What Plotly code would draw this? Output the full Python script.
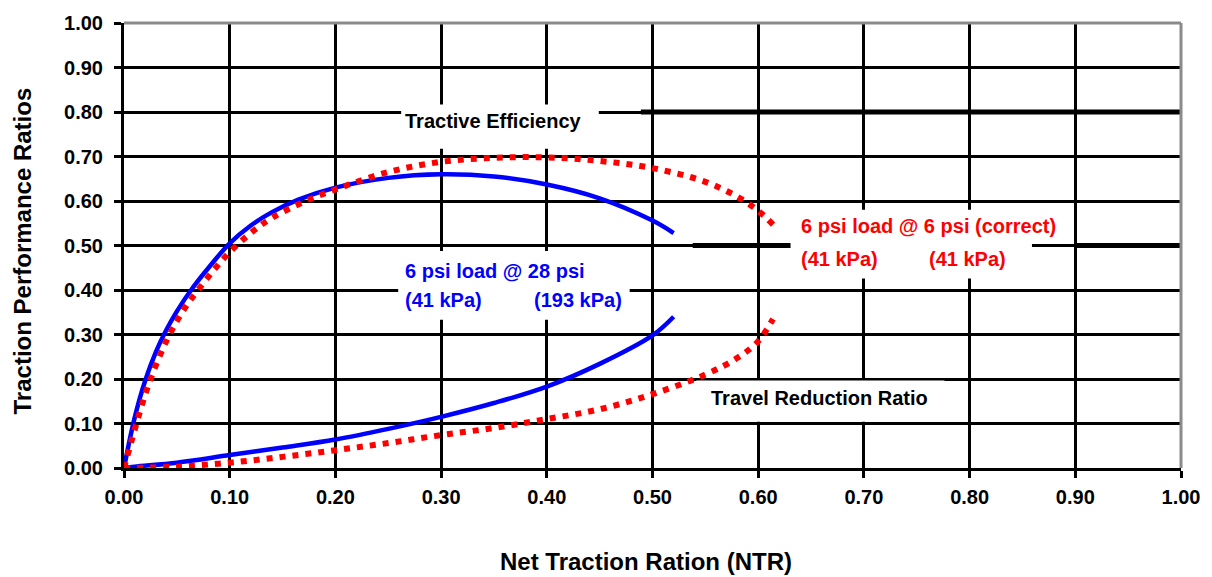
import plotly.graph_objects as go

# ---- data ----
te28_x = [0.0, 0.01, 0.02, 0.03, 0.04, 0.05, 0.065, 0.08, 0.10, 0.12, 0.14, 0.165, 0.20, 0.25, 0.30, 0.35, 0.40, 0.45, 0.50, 0.52]
te28_y = [0.0, 0.112, 0.196, 0.26, 0.31, 0.352, 0.405, 0.45, 0.505, 0.545, 0.575, 0.603, 0.63, 0.652, 0.660, 0.655, 0.637, 0.606, 0.556, 0.528]

te6_x = [0.0, 0.01, 0.02, 0.03, 0.04, 0.05, 0.06, 0.07, 0.085, 0.10, 0.12, 0.14, 0.17, 0.20, 0.25, 0.30, 0.35, 0.40, 0.45, 0.50, 0.55, 0.58, 0.60, 0.614]
te6_y = [0.0, 0.085, 0.165, 0.23, 0.285, 0.33, 0.368, 0.40, 0.445, 0.485, 0.528, 0.562, 0.598, 0.626, 0.665, 0.688, 0.697, 0.698, 0.690, 0.674, 0.643, 0.61, 0.578, 0.547]

trr28_x = [0.0, 0.01, 0.05, 0.10, 0.15, 0.20, 0.25, 0.30, 0.35, 0.40, 0.45, 0.50, 0.52]
trr28_y = [0.0, 0.003, 0.012, 0.029, 0.046, 0.064, 0.088, 0.115, 0.146, 0.183, 0.234, 0.298, 0.34]

trr6_x = [0.0, 0.05, 0.10, 0.15, 0.20, 0.25, 0.30, 0.35, 0.40, 0.45, 0.50, 0.55, 0.58, 0.60, 0.614]
trr6_y = [0.0, 0.003, 0.012, 0.025, 0.040, 0.056, 0.074, 0.090, 0.110, 0.132, 0.166, 0.210, 0.247, 0.285, 0.335]

tick_vals = [0.0, 0.1, 0.2, 0.3, 0.4, 0.5, 0.6, 0.7, 0.8, 0.9, 1.0]
tick_text = ["0.00", "0.10", "0.20", "0.30", "0.40", "0.50", "0.60", "0.70", "0.80", "0.90", "1.00"]

x_title = "Net Traction Ration (NTR)"
y_title = "Traction Performance Ratios"

BLUE = "#0000FF"
RED = "#FF0000"
FONT = "Liberation Sans, Arial, sans-serif"

fig = go.Figure()
fig.add_trace(go.Scatter(x=te28_x, y=te28_y, mode="lines", line=dict(color=BLUE, width=4.5, shape="spline", smoothing=1)))
fig.add_trace(go.Scatter(x=trr28_x, y=trr28_y, mode="lines", line=dict(color=BLUE, width=4.5, shape="spline", smoothing=1)))
fig.add_trace(go.Scatter(x=te6_x, y=te6_y, mode="lines", line=dict(color=RED, width=6, dash="6px,7px", shape="spline", smoothing=1)))
fig.add_trace(go.Scatter(x=trr6_x, y=trr6_y, mode="lines", line=dict(color=RED, width=6, dash="6px,7px", shape="spline", smoothing=1)))

axis_common = dict(
    range=[0, 1], tickvals=tick_vals, ticktext=tick_text,
    showgrid=True, gridcolor="black", gridwidth=3,
    showline=True, linecolor="black", linewidth=3,
    ticks="outside", ticklen=7, tickwidth=3, tickcolor="black",
    zeroline=False, fixedrange=True,
    tickfont=dict(family=FONT, size=20, color="black", weight="bold"),
)
fig.update_xaxes(**axis_common, ticklabelstandoff=2)
fig.update_yaxes(**axis_common, ticklabelstandoff=7)

# decorative thick segments and label masks (layout only)
thick_segments = [(0.489, 1.0, 0.8), (0.538, 0.636, 0.5), (0.899, 1.0, 0.5)]
mask_boxes = [
    (0.2622, 0.4492, 0.7174, 0.8168),
    (0.2594, 0.4784, 0.3333, 0.4879),
    (0.6306, 0.8590, 0.4260, 0.5806),
    (0.5414, 0.7763, 0.1038, 0.1965),
]
shapes = []
for x0, x1, y in thick_segments:
    shapes.append(dict(type="line", xref="x", yref="y", x0=x0, x1=x1, y0=y, y1=y,
                       line=dict(color="black", width=5), layer="between"))
for x0, x1, y0, y1 in mask_boxes:
    shapes.append(dict(type="rect", xref="x", yref="y", x0=x0, x1=x1, y0=y0, y1=y1,
                       fillcolor="white", line=dict(width=0), layer="between"))
# gray frame top / right
shapes.append(dict(type="line", xref="paper", yref="paper", x0=0, x1=1, y0=1, y1=1,
                   line=dict(color="#8a8a8a", width=3)))
shapes.append(dict(type="line", xref="paper", yref="paper", x0=1, x1=1, y0=0, y1=1,
                   line=dict(color="#8a8a8a", width=3)))

def lab(text, x, y, color, xanchor="left"):
    return dict(text="<b>" + text + "</b>", x=x, y=y, xref="x", yref="y", showarrow=False,
                xanchor=xanchor, yanchor="middle",
                font=dict(family=FONT, size=20, color=color))

annotations = [
    lab("Tractive Efficiency", 0.3496, 0.7792, "black", "center"),
    lab("6 psi load @ 28 psi", 0.2641, 0.4437, BLUE),
    lab("(41 kPa)", 0.2641, 0.3775, BLUE),
    lab("(193 kPa)", 0.3863, 0.3775, BLUE),
    lab("6 psi load @ 6 psi (correct)", 0.6382, 0.5430, RED),
    lab("(41 kPa)", 0.6382, 0.4702, RED),
    lab("(41 kPa)", 0.7594, 0.4702, RED),
    lab("Travel Reduction Ratio", 0.5536, 0.1567, "black"),
    dict(text="<b>" + x_title + "</b>", x=0.494, y=-0.2097, xref="paper", yref="paper",
         showarrow=False, xanchor="center", yanchor="middle",
         font=dict(family=FONT, size=24, color="black")),
    dict(text="<b>" + y_title + "</b>", x=-0.0959, y=0.488, xref="paper", yref="paper",
         showarrow=False, xanchor="center", yanchor="middle", textangle=-90,
         font=dict(family=FONT, size=24, color="black")),
]

fig.update_layout(
    width=1212, height=577,
    margin=dict(l=124, r=24, t=15, b=109),
    paper_bgcolor="white", plot_bgcolor="white",
    showlegend=False,
    shapes=shapes, annotations=annotations,
)

fig.write_html("out.html")
